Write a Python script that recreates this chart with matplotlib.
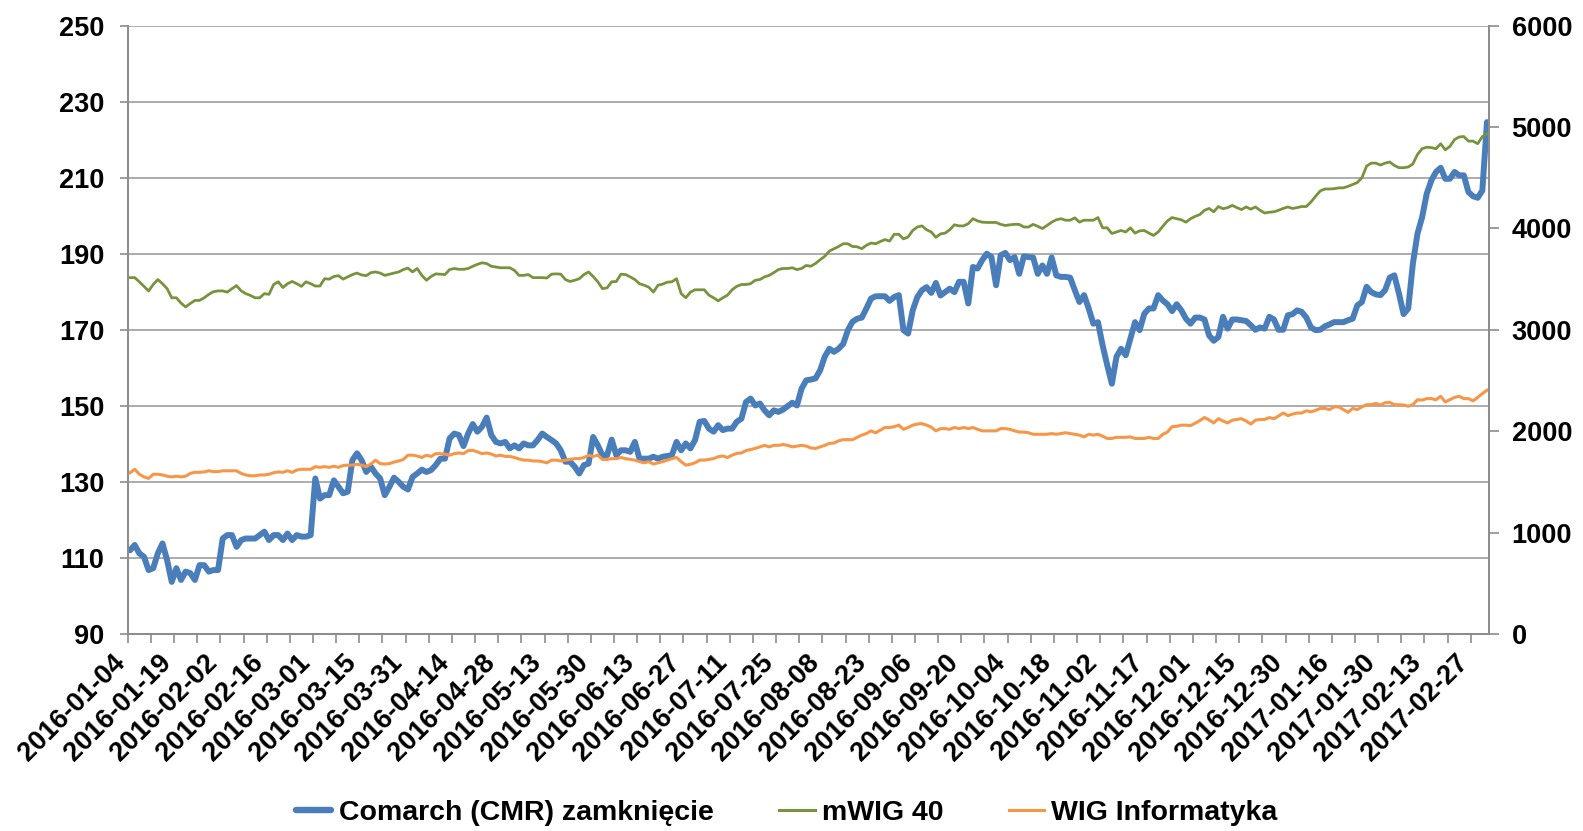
import matplotlib
matplotlib.use('Agg')
import matplotlib.pyplot as plt
import numpy as np

plt.rcParams['font.family'] = ['Liberation Sans', 'DejaVu Sans']
plt.rcParams['font.weight'] = 'bold'

# ---------------- data ----------------
tick_labels = [
    '2016-01-04', '2016-01-19', '2016-02-02', '2016-02-16', '2016-03-01',
    '2016-03-15', '2016-03-31', '2016-04-14', '2016-04-28', '2016-05-13',
    '2016-05-30', '2016-06-13', '2016-06-27', '2016-07-11', '2016-07-25',
    '2016-08-08', '2016-08-23', '2016-09-06', '2016-09-20', '2016-10-04',
    '2016-10-18', '2016-11-02', '2016-11-17', '2016-12-01', '2016-12-15',
    '2016-12-30', '2017-01-16', '2017-01-30', '2017-02-13', '2017-02-27',
]

# Comarch (CMR) close, PLN (left axis) - one value per trading day
cmr = [
    112.0, 113.4, 111.2, 110.3, 106.8, 107.3, 111.2, 113.8, 109.4, 103.7,
    107.3, 104.2, 106.4, 106.0, 104.2, 108.1, 108.1, 106.4, 106.8, 106.8,
    115.1, 116.0, 116.0, 112.9, 114.7, 115.1, 115.1, 115.1, 116.0, 116.9,
    114.7, 116.0, 116.0, 114.7, 116.4, 114.7, 116.0, 115.6, 115.6, 116.0,
    130.9, 125.6, 126.5, 126.5, 130.4, 128.7, 127.0, 127.4, 135.7, 137.5,
    135.7, 132.6, 134.0, 132.2, 130.9, 126.5, 128.7, 131.1, 130.0, 128.7,
    128.0, 131.3, 132.2, 133.2, 132.6, 133.1, 134.4, 136.1, 136.1, 141.4,
    142.7, 142.3, 139.4, 142.7, 145.2, 143.2, 144.5, 146.9, 142.3, 140.5,
    140.1, 140.5, 138.8, 139.6, 138.8, 140.1, 139.6, 139.6, 141.0, 142.7,
    141.8, 141.0, 140.1, 138.3, 135.3, 135.3, 134.0, 132.2, 134.4, 134.8,
    141.8, 139.6, 137.0, 137.0, 141.1, 137.0, 138.3, 138.3, 137.9, 140.5,
    136.1, 136.1, 136.1, 136.6, 136.1, 136.6, 136.8, 137.0, 140.5, 138.3,
    140.1, 138.8, 141.0, 145.8, 146.0, 144.0, 143.2, 144.9, 143.6, 144.0,
    144.0, 145.8, 146.6, 151.0, 151.9, 150.1, 150.6, 148.8, 147.5, 148.8,
    148.4, 149.0, 149.9, 150.8, 150.1, 154.5, 156.7, 156.9, 157.2, 159.3,
    162.9, 165.0, 164.2, 165.0, 166.3, 169.9, 172.1, 172.9, 173.2, 175.6,
    178.2, 178.8, 178.8, 178.8, 177.6, 178.6, 179.1, 169.9, 169.0, 175.1,
    178.6, 180.4, 181.2, 179.7, 182.3, 179.0, 179.9, 180.8, 179.9, 182.6,
    182.6, 176.9, 186.5, 186.1, 188.3, 190.0, 189.1, 181.7, 189.6, 190.2,
    188.3, 189.1, 184.7, 189.3, 189.1, 189.0, 184.7, 186.9, 184.7, 189.0,
    184.3, 183.9, 183.9, 183.7, 180.4, 177.3, 179.1, 175.6, 171.6, 172.0,
    165.9, 160.7, 155.8, 162.9, 165.0, 163.3, 167.7, 172.0, 169.9, 174.2,
    175.6, 175.6, 179.1, 177.7, 176.7, 174.9, 176.7, 175.1, 172.9, 171.6,
    173.2, 173.2, 172.7, 168.5, 167.1, 168.1, 173.4, 170.3, 172.7, 172.7,
    172.5, 172.3, 171.2, 170.0, 170.6, 170.3, 173.4, 172.7, 170.0, 170.0,
    173.8, 174.1, 175.1, 174.7, 173.2, 170.6, 169.9, 170.0, 170.9, 171.4,
    172.0, 172.0, 172.0, 172.5, 172.9, 176.4, 177.3, 181.3, 179.9, 179.3,
    179.1, 180.4, 183.7, 184.3, 179.5, 174.1, 175.6, 187.4, 195.3, 199.6,
    205.8, 209.3, 211.5, 212.6, 209.7, 209.7, 211.5, 210.6, 210.6, 206.2,
    205.1, 204.7, 206.6, 224.6,
]

# mWIG 40 index (right axis)
mwig40 = [
    3514, 3514, 3473, 3428, 3383, 3446, 3495, 3454, 3405, 3315,
    3315, 3263, 3225, 3259, 3289, 3289, 3315, 3349, 3375, 3383,
    3383, 3371, 3405, 3435, 3383, 3356, 3338, 3315, 3315, 3356,
    3349, 3446, 3473, 3416, 3454, 3476, 3454, 3428, 3473, 3454,
    3431, 3431, 3503, 3499, 3525, 3533, 3499, 3521, 3544, 3559,
    3540, 3533, 3563, 3570, 3559, 3536, 3548, 3559, 3570, 3593,
    3608, 3570, 3604, 3536, 3488, 3525, 3551, 3548, 3544, 3593,
    3604, 3596, 3596, 3604, 3626, 3645, 3660, 3653, 3626, 3619,
    3611, 3611, 3611, 3585, 3536, 3536, 3544, 3514, 3514, 3514,
    3510, 3548, 3551, 3548, 3495, 3476, 3488, 3503, 3544, 3570,
    3525, 3473, 3405, 3413, 3473, 3476, 3548, 3544, 3521, 3495,
    3454, 3439, 3420, 3371, 3439, 3450, 3469, 3473, 3503, 3356,
    3315, 3371, 3394, 3394, 3394, 3341, 3315, 3285, 3315, 3341,
    3394, 3428, 3446, 3446, 3454, 3488, 3495, 3521, 3536, 3563,
    3593, 3604, 3604, 3611, 3593, 3604, 3634, 3626, 3653, 3690,
    3724, 3776, 3799, 3821, 3848, 3848, 3821, 3818, 3799, 3833,
    3855, 3848, 3870, 3889, 3874, 3941, 3941, 3896, 3915, 3979,
    4013, 4024, 3986, 3964, 3911, 3945, 3953, 3986, 4035, 4024,
    4024, 4046, 4095, 4073, 4061, 4058, 4058, 4058, 4039, 4028,
    4035, 4039, 4039, 4013, 4013, 4039, 4020, 3998, 4028, 4061,
    4084, 4095, 4080, 4080, 4103, 4061, 4080, 4080, 4080, 4106,
    4005, 4005, 3949, 3964, 3979, 3964, 4005, 3953, 3975, 3979,
    3953, 3930, 3964, 4020, 4073, 4106, 4095, 4084, 4061, 4095,
    4118, 4136, 4178, 4196, 4163, 4215, 4193, 4204, 4226, 4204,
    4185, 4211, 4189, 4211, 4178, 4151, 4159, 4163, 4178, 4196,
    4211, 4196, 4204, 4215, 4215, 4260, 4316, 4369, 4388, 4388,
    4391, 4399, 4399, 4414, 4433, 4451, 4500, 4613, 4643, 4643,
    4624, 4643, 4654, 4620, 4598, 4598, 4605, 4635, 4729, 4785,
    4800, 4796, 4785, 4834, 4774, 4808, 4875, 4901, 4905, 4860,
    4860, 4834, 4905, 4931,
]

# WIG Informatyka index (right axis)
wig_info = [
    1590, 1624, 1575, 1549, 1534, 1575, 1575, 1568, 1556, 1549,
    1556, 1549, 1556, 1583, 1594, 1594, 1598, 1609, 1601, 1601,
    1609, 1609, 1609, 1609, 1583, 1568, 1560, 1560, 1568, 1568,
    1575, 1590, 1598, 1594, 1609, 1594, 1616, 1624, 1624, 1624,
    1650, 1643, 1650, 1643, 1654, 1643, 1661, 1665, 1665, 1673,
    1665, 1650, 1676, 1714, 1680, 1676, 1680, 1695, 1706, 1721,
    1763, 1763, 1755, 1740, 1763, 1751, 1778, 1778, 1774, 1763,
    1778, 1785, 1778, 1808, 1811, 1796, 1778, 1785, 1774, 1755,
    1763, 1751, 1751, 1740, 1725, 1714, 1714, 1706, 1706, 1699,
    1688, 1714, 1714, 1706, 1714, 1721, 1729, 1729, 1740, 1763,
    1751, 1763, 1721, 1721, 1729, 1729, 1740, 1729, 1721, 1714,
    1699, 1688, 1699, 1676, 1688, 1699, 1714, 1729, 1740, 1699,
    1665, 1673, 1688, 1714, 1714, 1721, 1729, 1748, 1755, 1740,
    1763, 1781, 1785, 1808, 1819, 1830, 1845, 1860, 1845, 1860,
    1860, 1868, 1860, 1845, 1853, 1860, 1853, 1834, 1830, 1845,
    1860, 1879, 1883, 1905, 1916, 1916, 1916, 1939, 1961, 1976,
    2003, 1984, 2010, 2036, 2036, 2044, 2059, 2018, 2036, 2059,
    2070, 2074, 2059, 2040, 2003, 2025, 2025, 2018, 2036, 2025,
    2036, 2025, 2036, 2018, 2003, 2003, 2003, 2003, 2025, 2025,
    2018, 2003, 1991, 1991, 1984, 1969, 1969, 1969, 1969, 1976,
    1969, 1976, 1984, 1976, 1969, 1961, 1943, 1969, 1961, 1969,
    1950, 1928, 1928, 1939, 1939, 1939, 1943, 1928, 1928, 1928,
    1939, 1928, 1928, 1969, 1991, 2044, 2048, 2059, 2059, 2055,
    2078, 2104, 2134, 2111, 2081, 2123, 2100, 2081, 2108, 2115,
    2123, 2100, 2070, 2108, 2115, 2115, 2134, 2123, 2149, 2179,
    2153, 2168, 2179, 2179, 2201, 2190, 2205, 2224, 2224, 2213,
    2239, 2239, 2213, 2186, 2224, 2213, 2239, 2261, 2261, 2273,
    2258, 2280, 2284, 2261, 2261, 2258, 2246, 2261, 2310, 2306,
    2321, 2321, 2310, 2344, 2288, 2310, 2333, 2344, 2321, 2321,
    2299, 2333, 2370, 2404,
]

series_names = ['Comarch (CMR) zamknięcie', 'mWIG 40', 'WIG Informatyka']
left_ticks = [90, 110, 130, 150, 170, 190, 210, 230, 250]
right_ticks = [0, 1000, 2000, 3000, 4000, 5000, 6000]

# ---------------- style ----------------
C_BLUE = '#4A7EBB'
C_GREEN = '#77933C'
C_ORANGE = '#F79646'
C_GRID = '#A6A6A6'
C_AXIS = '#8C8C8C'
FS = 19.5
FS_LEG = 20.5

fig = plt.figure(figsize=(15.83, 8.31), dpi=100)
ax = fig.add_axes([0.0807, 0.2371, 0.8601, 0.7322])
ax2 = ax.twinx()

x = np.arange(len(cmr))
l1, = ax.plot(x, cmr, color=C_BLUE, lw=4.3, solid_joinstyle='round',
              solid_capstyle='round', label=series_names[0])
l2, = ax2.plot(x, mwig40, color=C_GREEN, lw=2.0, label=series_names[1])
l3, = ax2.plot(x, wig_info, color=C_ORANGE, lw=2.2, label=series_names[2])

ax.set_xlim(-0.5, len(cmr) - 0.5)
ax.set_ylim(left_ticks[0], left_ticks[-1])
ax.set_yticks(left_ticks)
ax2.set_ylim(right_ticks[0], right_ticks[-1])
ax2.set_yticks(right_ticks)

ax.grid(axis='y', color=C_GRID, lw=1.3)
ax.set_axisbelow(True)

# x ticks: labels every 10 trading days, tick marks every 5 (between categories)
label_pos = np.arange(0, len(cmr), 10)[:len(tick_labels)]
ax.set_xticks(label_pos)
ax.set_xticklabels(tick_labels, rotation=45, ha='right', fontsize=FS, fontweight='bold')
ax.set_xticks(np.arange(-0.5, len(cmr) - 1, 5), minor=True)
ax.tick_params(axis='x', which='major', length=0, pad=11)
ax.tick_params(axis='x', which='minor', length=6.5, width=1.2, color=C_AXIS, direction='out')

ax.tick_params(axis='y', which='major', length=6, width=1.2, color=C_AXIS,
               labelsize=FS, pad=11, direction='out')
ax2.tick_params(axis='y', which='major', length=7, width=1.2, color=C_AXIS,
                labelsize=FS, pad=9, direction='out')
for lab in ax.get_yticklabels() + ax2.get_yticklabels():
    lab.set_fontweight('bold')

for a in (ax, ax2):
    a.spines['top'].set_visible(False)
    for s in ('left', 'right', 'bottom'):
        a.spines[s].set_color(C_AXIS)
        a.spines[s].set_linewidth(1.3)

leg = fig.legend([l1, l2, l3], series_names, loc='center', bbox_to_anchor=(0.497, 0.022),
                 ncol=3, frameon=False, prop={'size': FS_LEG, 'weight': 'bold'},
                 handlelength=1.25, handletextpad=0.25, columnspacing=2.3)
for h, w in zip(leg.get_lines(), (4.6, 2.2, 2.2)):
    h.set_linewidth(w)

fig.savefig('out.png', dpi=100)
